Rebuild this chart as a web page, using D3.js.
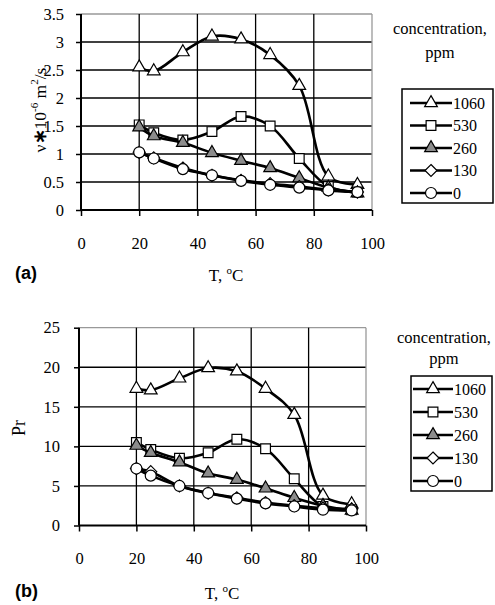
<!DOCTYPE html>
<html>
<head>
<meta charset="utf-8">
<script src="https://cdn.jsdelivr.net/npm/d3@7/dist/d3.min.js"></script>
<style>
  body { margin: 0; background: #fff; }
  svg text { font-family: "Liberation Serif", "Times New Roman", Times, serif; fill: #000; }
</style>
</head>
<body>
<svg id="chart" width="495" height="605"></svg>
<script>
// temperatures (deg C) shared by every series
const temps = [20, 25, 35, 45, 55, 65, 75, 85, 95];
const concentrations = ["1060", "530", "260", "130", "0"];

// (a) kinematic viscosity, x 10^-6 m2/s
const visc1060 = [2.55, 2.48, 2.82, 3.10, 3.05, 2.77, 2.22, 0.60, 0.45];
const visc530  = [1.52, 1.38, 1.25, 1.40, 1.67, 1.50, 0.92, 0.42, 0.32];
const visc260  = [1.48, 1.32, 1.20, 1.02, 0.88, 0.75, 0.57, 0.40, 0.30];
const visc130  = [1.03, 0.93, 0.75, 0.62, 0.53, 0.47, 0.42, 0.36, 0.32];
const visc0    = [1.03, 0.92, 0.73, 0.62, 0.52, 0.45, 0.40, 0.35, 0.32];

// (b) Prandtl number
const pr1060 = [17.3, 17.1, 18.6, 19.9, 19.5, 17.3, 14.0, 3.8, 2.7];
const pr530  = [10.5, 9.6, 8.5, 9.2, 10.9, 9.7, 5.9, 2.4, 2.0];
const pr260  = [10.1, 9.2, 8.0, 6.6, 5.8, 4.7, 3.5, 2.5, 1.9];
const pr130  = [7.2, 6.8, 5.0, 4.1, 3.5, 2.9, 2.5, 2.2, 2.1];
const pr0    = [7.2, 6.3, 5.0, 4.1, 3.4, 2.8, 2.4, 2.0, 1.9];

const xTicks = [0, 20, 40, 60, 80, 100];
const viscTicks = [0, 0.5, 1, 1.5, 2, 2.5, 3, 3.5];
const prTicks = [0, 5, 10, 15, 20, 25];

const serif = '"Liberation Serif", "Times New Roman", Times, serif';
const svg = d3.select("#chart");

// marker look for each concentration, same order as concentrations
const markers = [
  { type: "triangle", fill: "#fff" },
  { type: "square", fill: "#fff" },
  { type: "triangle", fill: "#8c8c8c" },
  { type: "diamond", fill: "#fff" },
  { type: "circle", fill: "#fff" },
];

function markerPath(type) {
  if (type === "triangle") return d3.symbol(d3.symbolTriangle, 70)();
  if (type === "square") return d3.symbol(d3.symbolSquare, 95)();
  if (type === "circle") return d3.symbol(d3.symbolCircle, 95)();
  // excel style diamond = square turned 45deg
  return "M0,-6L6,0L0,6L-6,0Z";
}

function drawPanel(cfg) {
  const g = svg.append("g");
  const x = d3.scaleLinear().domain([0, 100]).range(cfg.xRange);
  const y = d3.scaleLinear().domain([0, cfg.yTicks[cfg.yTicks.length - 1]]).range(cfg.yRange);

  // grid
  g.selectAll(".hgrid")
    .data(cfg.yTicks.slice(1))
    .join("line")
    .attr("x1", x(0)).attr("x2", x(100))
    .attr("y1", d => y(d)).attr("y2", d => y(d))
    .attr("stroke", (d, i) => i === cfg.yTicks.length - 2 ? "#999" : "#000")
    .attr("stroke-width", 1.3);
  g.selectAll(".vgrid")
    .data(xTicks.slice(1))
    .join("line")
    .attr("x1", d => x(d)).attr("x2", d => x(d))
    .attr("y1", y(0)).attr("y2", y.range()[1])
    .attr("stroke", d => d === 100 ? "#999" : "#000")
    .attr("stroke-width", 1.3);

  // axes
  const xAxis = d3.axisBottom(x).tickValues(xTicks).tickSize(6).tickPadding(21);
  const yAxis = d3.axisLeft(y).tickValues(cfg.yTicks).tickSize(5).tickPadding(cfg.yPad)
    .tickFormat(d3.format(""));
  const xg = g.append("g").attr("transform", `translate(0,${y(0)})`).call(xAxis);
  const yg = g.append("g").attr("transform", `translate(${x(0)},0)`).call(yAxis);
  [xg, yg].forEach(a => {
    a.attr("font-family", serif).attr("font-size", 16.5);
    a.select(".domain").attr("stroke", "#000").attr("stroke-width", 2);
    a.selectAll(".tick line").attr("stroke", "#000").attr("stroke-width", 1.5);
    a.selectAll(".tick text")
      .style("font-family", serif)
      .style("font-size", "16.5px")
      .attr("fill", "#000");
  });
  yg.select(".domain").attr("d", `M0,${y.range()[1]}V${y(0)}`);
  xg.select(".domain").attr("d", `M${x(0)},0H${x(100)}`);

  // series
  const line = d3.line()
    .x((d, i) => x(temps[i]))
    .y(d => y(d))
    .curve(d3.curveCatmullRom.alpha(0.5));

  cfg.series.forEach((values, s) => {
    g.append("path")
      .attr("d", line(values))
      .attr("fill", "none")
      .attr("stroke", "#000")
      .attr("stroke-width", 2.6);
    g.selectAll(null)
      .data(values)
      .join("path")
      .attr("transform", (d, i) => `translate(${x(temps[i])},${y(d)})`)
      .attr("d", markerPath(markers[s].type))
      .attr("fill", markers[s].fill)
      .attr("stroke", "#000")
      .attr("stroke-width", 1.2);
  });

  // axis titles
  cfg.yTitle(g);
  const xt = g.append("text")
    .attr("x", cfg.xTitleX).attr("y", cfg.xTitleY)
    .attr("text-anchor", "middle")
    .style("font-size", "17px");
  xt.append("tspan").text("T, ");
  xt.append("tspan").text("o").attr("dy", -7).style("font-size", "11px");
  xt.append("tspan").text("C").attr("dy", 7);

  g.append("text")
    .attr("x", 15).attr("y", cfg.xTitleY - 2)
    .style("font-family", '"Liberation Sans", Arial, sans-serif')
    .style("font-weight", "bold")
    .style("font-size", "18px")
    .text(cfg.letter);

  // legend
  const lg = cfg.legend;
  g.append("text").attr("x", lg.titleX).attr("y", lg.titleY)
    .attr("text-anchor", "middle").style("font-size", "16.5px").text("concentration,");
  g.append("text").attr("x", lg.titleX).attr("y", lg.titleY + lg.ppmGap)
    .attr("text-anchor", "middle").style("font-size", "16.5px").text("ppm");
  g.append("rect")
    .attr("x", lg.box[0]).attr("y", lg.box[1])
    .attr("width", lg.box[2]).attr("height", lg.box[3])
    .attr("fill", "#fff").attr("stroke", "#000").attr("stroke-width", 1.5);
  concentrations.forEach((c, i) => {
    const ry = lg.row0 + i * lg.rowGap;
    g.append("line")
      .attr("x1", lg.lineX[0]).attr("x2", lg.lineX[1])
      .attr("y1", ry).attr("y2", ry)
      .attr("stroke", "#000").attr("stroke-width", 2.6);
    g.append("path")
      .attr("transform", `translate(${(lg.lineX[0] + lg.lineX[1]) / 2},${ry})`)
      .attr("d", markerPath(markers[i].type))
      .attr("fill", markers[i].fill)
      .attr("stroke", "#000")
      .attr("stroke-width", 1.2);
    g.append("text")
      .attr("x", lg.lineX[1] + 1).attr("y", ry + 5.5)
      .style("font-size", "16px")
      .text(c);
  });
}

drawPanel({
  xRange: [81, 372],
  yRange: [210, 14],
  yTicks: viscTicks,
  yPad: 12,
  series: [visc1060, visc530, visc260, visc130, visc0],
  xTitleX: 226,
  xTitleY: 281,
  letter: "(a)",
  yTitle: g => {
    const t = g.append("text")
      .attr("transform", "translate(46,110) rotate(-90)")
      .attr("text-anchor", "middle")
      .style("font-size", "17.5px");
    t.append("tspan").text("ν");
    t.append("tspan").text("∗").style("font-weight", "bold");
    t.append("tspan").text("10");
    t.append("tspan").text("-6").attr("dy", -8).style("font-size", "11px");
    t.append("tspan").text(" m").attr("dy", 8);
    t.append("tspan").text("2").attr("dy", -8).style("font-size", "11px");
    t.append("tspan").text("/s").attr("dy", 8);
  },
  legend: {
    titleX: 440, titleY: 34, ppmGap: 24,
    box: [402, 89, 91, 114],
    row0: 103, rowGap: 22.5,
    lineX: [410, 452],
  },
});

drawPanel({
  xRange: [79, 366],
  yRange: [525.5, 327.7],
  yTicks: prTicks,
  yPad: 14,
  series: [pr1060, pr530, pr260, pr130, pr0],
  xTitleX: 222,
  xTitleY: 599,
  letter: "(b)",
  yTitle: g => {
    g.append("text")
      .attr("transform", "translate(25,428) rotate(-90)")
      .attr("text-anchor", "middle")
      .style("font-size", "18px")
      .text("Pr");
  },
  legend: {
    titleX: 444, titleY: 343, ppmGap: 21,
    box: [411, 376, 81, 115],
    row0: 389, rowGap: 23,
    lineX: [413, 453],
  },
});
</script>
</body>
</html>
